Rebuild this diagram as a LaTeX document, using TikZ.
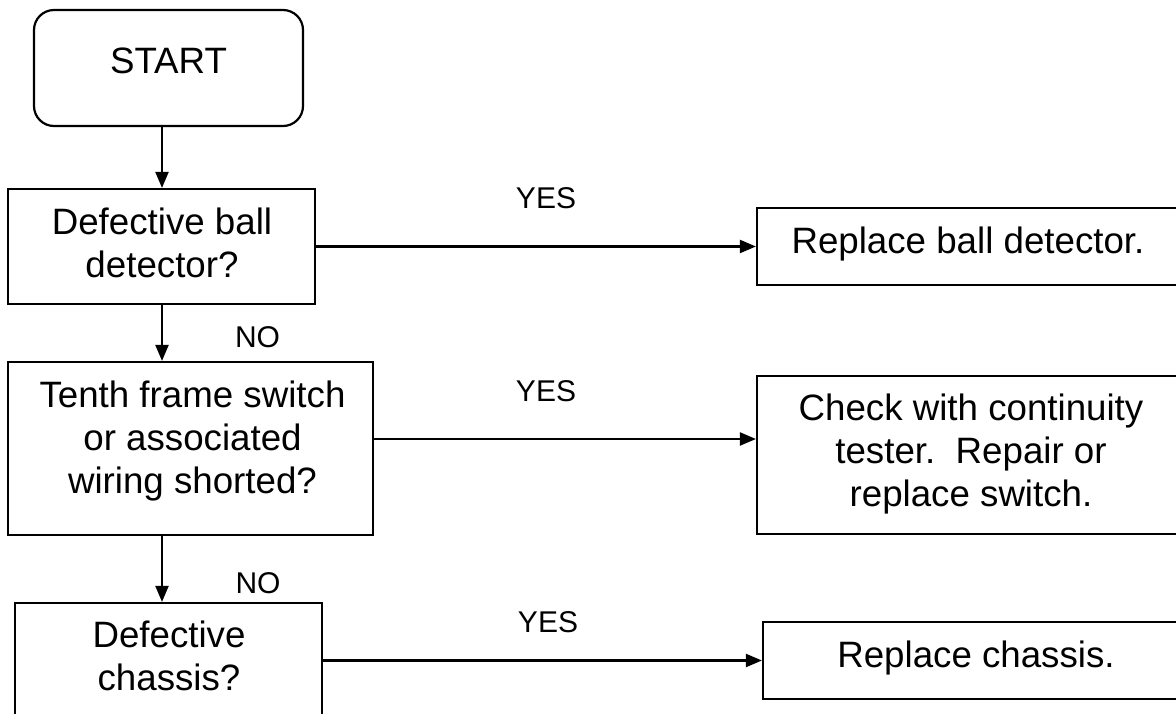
\documentclass[tikz,border=0pt]{standalone}
\usepackage{fontspec}
\setmainfont{Liberation Sans}
\usetikzlibrary{arrows.meta,calc}
\begin{document}
\begin{tikzpicture}[x=1pt,y=-1pt,
  box/.style={draw=black,line width=2.2pt,inner sep=0pt,fill=none},
  txt/.style={inner sep=0pt,align=center,anchor=base,font=\fontsize{36.7}{43}\selectfont},
  lab/.style={inner sep=0pt,anchor=base,font=\fontsize{30}{36}\selectfont},
  arr/.style={line width=2.2pt,-{Triangle[length=16pt,width=13pt]}}]
\useasboundingbox (0,0) rectangle (1176,713);
\clip (0,0) rectangle (1176,713);
% boxes
\node[box,rounded corners=20pt,minimum width=269pt,minimum height=116pt] (start) at (168.5,68) {};
\node[box,minimum width=307pt,minimum height=115pt] (b1) at (161.5,246.5) {};
\node[box,minimum width=365pt,minimum height=173pt] (b2) at (190.5,448.5) {};
\node[box,minimum width=307pt,minimum height=124pt] (b3) at (168.5,665) {};
\node[box,minimum width=426pt,minimum height=77pt] (r1) at (970,246.5) {};
\node[box,minimum width=426pt,minimum height=158pt] (r2) at (970,455) {};
\node[box,minimum width=426pt,minimum height=77pt] (r3) at (976,660.5) {};
% texts (anchored at the baseline of the last line)
\node[txt] (startt) at (168.5,73) {START};
\node[txt] (b1t) at (162,277) {Defective ball\\detector?};
\node[txt] (b2t) at (192.5,493) {Tenth frame switch\\or associated\\wiring shorted?};
\node[txt] (b3t) at (169,690) {Defective\\chassis?};
\node[txt] (r1t) at (968,253) {Replace ball detector.};
\node[txt] (r2t) at (971,506) {Check with continuity\\tester.\ \ Repair or\\replace switch.};
\node[txt] (r3t) at (976,667) {Replace chassis.};
% labels
\node[lab] (yes1) at (546,208) {YES};
\node[lab] (yes2) at (546,401) {YES};
\node[lab] (yes3) at (548,632) {YES};
\node[lab] (no1) at (257.5,347) {NO};
\node[lab] (no2) at (258,593) {NO};
% connectors
\coordinate (spine) at (162,0);
\coordinate (row2) at (0,439);
\draw[arr] (start.south -| spine) -- (b1.north -| spine);
\draw[arr] (b1.south -| spine) -- (b2.north -| spine);
\draw[arr] (b2.south -| spine) -- (b3.north -| spine);
\draw[arr] (b1.east) -- (r1.west);
\draw[arr] (b2.east |- row2) -- (r2.west |- row2);
\draw[arr] (b3.east |- r3.west) -- (r3.west);
\end{tikzpicture}
\end{document}
